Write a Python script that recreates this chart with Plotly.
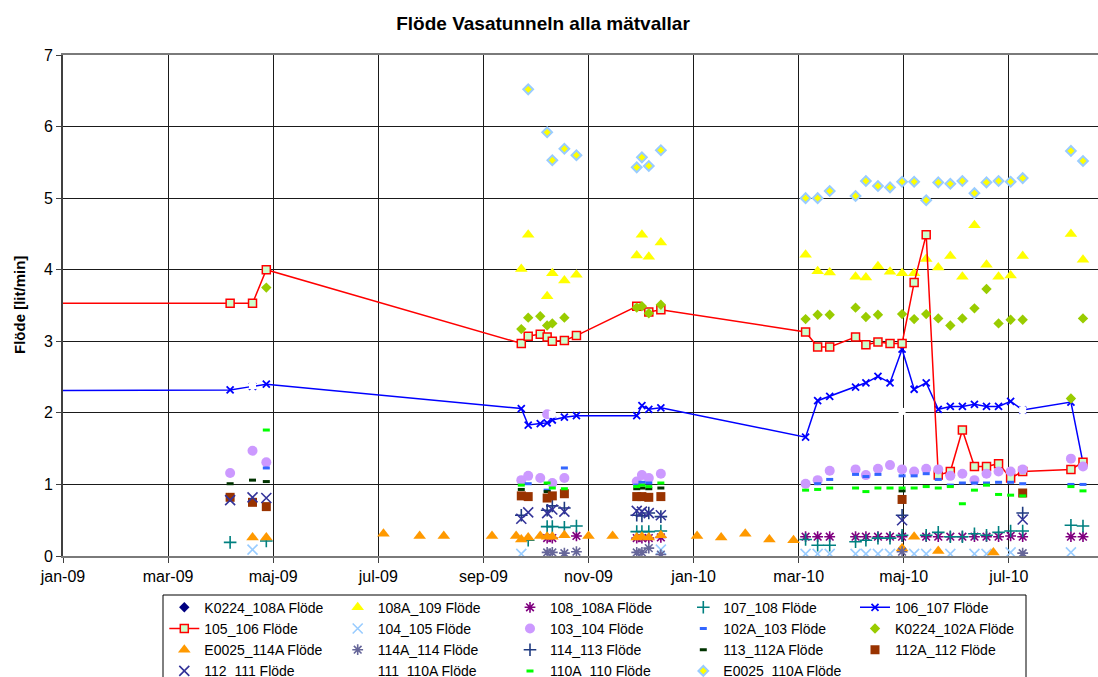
import plotly.graph_objects as go
from datetime import datetime, timedelta

# ---- measurement dates -------------------------------------------------
apr09 = ["2009-04-08", "2009-04-21", "2009-04-29"]
aut09 = ["2009-09-24", "2009-09-28", "2009-10-05", "2009-10-09",
         "2009-10-12", "2009-10-19", "2009-10-26"]
dec09 = ["2009-11-30", "2009-12-03", "2009-12-07", "2009-12-14"]
y2010 = ["2010-03-08", "2010-03-15", "2010-03-22", "2010-04-06", "2010-04-12",
         "2010-04-19", "2010-04-26", "2010-05-03", "2010-05-10", "2010-05-17",
         "2010-05-24", "2010-05-31", "2010-06-07", "2010-06-14", "2010-06-21",
         "2010-06-28", "2010-07-05", "2010-07-12", "2010-08-09", "2010-08-16"]
dates = apr09 + aut09 + dec09 + y2010

# earlier reading carried in from before the axis start
line_start = ["2008-12-01"]

N = None
# ---- flow values [lit/min] per weir, aligned with `dates` ---------------
v_108A_109 = [N, N, N, 4.01, 4.49, N, 3.63, 3.95, 3.85, 3.93, 4.20, 4.49, 4.18, 4.38,
              4.21, 3.98, 3.96, 3.90, 3.89, 4.05, 3.97, 3.95, 3.95, 4.15, 4.03, 4.19,
              3.90, 4.62, 4.07, 3.90, 3.92, 4.19, 4.50, 4.14]
v_108_108A = [N, N, N, N, N, N, 0.25, 0.25, N, 0.28, 0.25, 0.25, 0.25, 0.26,
              0.27, 0.27, 0.27, 0.27, 0.27, 0.27, 0.27, 0.27, N, 0.27, 0.27, 0.27,
              0.27, 0.27, 0.27, 0.27, 0.28, 0.27, 0.27, 0.27]
v_107_108 = [0.19, N, 0.21, N, 0.22, N, 0.41, 0.41, 0.40, 0.42, 0.34, 0.34, 0.34, 0.35,
             0.23, 0.15, 0.15, 0.20, 0.22, 0.25, 0.25, 0.29, N, 0.29, 0.33, 0.27,
             0.27, 0.31, 0.29, 0.33, 0.35, 0.35, 0.43, 0.42]
v_106_107 = [2.32, 2.37, 2.40, 2.06, 1.83, 1.85, 1.86, 1.90, 1.94, 1.96, 1.96, 2.10, 2.05, 2.07,
             1.66, 2.17, 2.23, 2.36, 2.42, 2.51, 2.42, 2.89, 2.33, 2.42, 2.05, 2.09,
             2.09, 2.12, 2.09, 2.09, 2.16, 2.04, 2.15, 1.30]
v_106_107_start = [2.31]
v_105_106 = [3.53, 3.53, 4.00, 2.97, 3.07, 3.10, 3.06, 3.00, 3.01, 3.08, 3.49, N, 3.41, 3.44,
             3.13, 2.92, 2.92, 3.06, 2.95, 2.99, 2.97, 2.97, 3.82, 4.49, 1.13, 1.18,
             1.76, 1.25, 1.25, 1.29, 1.09, 1.18, 1.21, 1.31]
v_105_106_start = [3.53]
v_104_105 = [N, 0.09, N, 0.03, N, N, N, N, N, N, N, N, N, 0.09,
             0.03, 0.03, 0.03, 0.03, 0.03, 0.03, 0.03, N, 0.03, 0.03, N, 0.03,
             N, 0.03, 0.03, N, 0.05, N, 0.05, N]
v_103_104 = [1.16, 1.47, 1.31, 1.06, 1.12, 1.09, 1.98, 1.02, 1.09, N, 1.04, 1.13, 1.09, 1.15,
             1.01, 1.06, 1.19, 1.21, 1.13, 1.22, 1.27, 1.21, 1.18, 1.22, 1.21, 1.12,
             1.15, 1.06, 1.15, 1.18, 1.18, 1.21, 1.36, 1.25]
v_102A_103 = [N, N, 1.23, N, 1.01, N, 0.92, N, 1.23, N, 0.99, 1.03, 1.02, N,
              N, 1.01, 1.07, 1.14, 1.11, 1.14, N, 1.12, 1.12, 1.15, 1.07, 0.99,
              1.02, 1.02, 1.02, 1.03, 1.03, 1.01, 1.00, 1.00]
v_K0224_102A = [N, N, 3.75, 3.17, 3.33, 3.35, 3.22, 3.25, 3.33, N, 3.47, 3.49, 3.39, 3.51,
                3.31, 3.37, 3.37, 3.47, 3.34, 3.37, N, 3.38, 3.31, 3.38, 3.32, 3.22,
                3.32, 3.46, 3.73, 3.25, 3.30, 3.30, 2.20, 3.32]
v_114A_114 = [N, N, N, N, N, N, 0.05, 0.05, 0.04, 0.06, 0.05, 0.05, 0.11, 0.02,
              N, N, N, N, N, N, N, 0.06, N, N, N, N, N, N, N, N, N, 0.04, N, N]
v_114_113 = [N, N, N, 0.57, N, N, 0.64, 0.70, 0.67, N, 0.57, 0.56, 0.60, 0.55,
             N, N, N, N, N, N, N, 0.57, N, N, N, N, N, N, N, N, N, 0.60, N, N]
v_113_112A = [1.01, 1.06, 1.04, 0.93, N, N, 0.90, N, N, N, 0.94, 0.95, 0.94, 0.95,
              N, N, N, N, N, N, N, 0.91, N, N, N, N, N, N, N, N, N, N, N, N]
v_112A_112 = [0.82, 0.75, 0.69, 0.84, 0.83, N, 0.81, 0.84, 0.87, N, 0.83, 0.83, 0.82, 0.83,
              N, N, N, N, N, N, N, 0.79, N, N, N, N, N, N, N, N, N, 0.88, N, N]
v_112_111 = [0.78, 0.82, 0.81, 0.52, 0.61, N, 0.60, 0.65, 0.62, N, 0.63, 0.62, 0.60, 0.57,
             N, N, N, N, N, N, N, 0.50, N, N, N, N, N, N, N, N, N, 0.51, N, N]
v_111_110A = [N, 2.38, N, N, N, N, N, 1.98, N, N, N, N, N, N,
              N, N, N, N, N, N, N, 2.02, N, N, N, N, N, N, N, N, N, 2.04, N, N]
v_110A_110 = [N, N, 1.76, 0.99, N, N, 1.02, 0.95, 0.94, N, 0.97, 0.99, 0.97, 1.02,
              0.92, 0.93, 0.95, 0.95, 0.90, 0.95, 0.95, 0.95, 0.95, 0.97, 0.95, 0.97,
              0.73, 0.92, 0.99, 0.86, 0.85, 0.84, 0.97, 0.91]
v_E0025_110A = [N, N, N, N, 6.52, N, 5.92, 5.53, 5.69, 5.60, 5.43, 5.57, 5.45, 5.67,
                5.00, 5.00, 5.10, 5.03, 5.24, 5.17, 5.15, 5.23, 5.23, 4.97, 5.22, 5.20,
                5.24, 5.07, 5.22, 5.24, 5.23, 5.28, 5.66, 5.52]

# E0025_114A was read on its own (roughly fortnightly) schedule
d_E0025_114A = ["2009-04-21", "2009-04-29", "2009-07-06", "2009-07-27", "2009-08-10",
                "2009-09-07", "2009-09-21", "2009-09-24", "2009-09-28", "2009-10-05",
                "2009-10-09", "2009-10-12", "2009-10-19", "2009-11-02", "2009-11-16",
                "2009-11-30", "2009-12-03", "2009-12-07", "2009-12-14", "2010-01-04",
                "2010-01-18", "2010-02-01", "2010-02-15", "2010-03-01", "2010-05-03",
                "2010-05-10", "2010-05-24", "2010-06-25"]
v_E0025_114A = [0.26, 0.26, 0.31, 0.28, 0.28, 0.28, 0.28, 0.23, 0.26, 0.28,
                0.27, 0.27, 0.29, 0.28, 0.28, 0.26, 0.27, 0.26, 0.29, 0.28,
                0.26, 0.31, 0.23, 0.22, 0.11, 0.27, 0.07, 0.05]

# no readings in range for K0224_108A (kept as a legend entry)
d_K0224_108A = [None]
v_K0224_108A = [None]

# axis labels
tick_labels = ["jan-09", "mar-09", "maj-09", "jul-09", "sep-09",
               "nov-09", "jan-10", "mar-10", "maj-10", "jul-10"]

FONT = "Liberation Sans, Arial, sans-serif"

fig = go.Figure()


def marker_trace(name, x, y, symbol, size, color, line_color=None, line_width=0, legend="legend"):
    fig.add_trace(go.Scatter(
        x=x, y=y, name=name, mode="markers", legend=legend,
        marker=dict(symbol=symbol, size=size, color=color,
                    line=dict(color=line_color or color, width=line_width)),
    ))


# legend columns (row-major order in five columns)
L = ["legend", "legend2", "legend3", "legend4", "legend5"]

marker_trace("K0224_108A Flöde", d_K0224_108A, v_K0224_108A, "diamond", 8, "#000080", legend=L[0])
marker_trace("108A_109 Flöde", dates, v_108A_109, "triangle-up", 11, "#FFFF00", legend=L[1])
marker_trace("108_108A Flöde", dates, v_108_108A, "asterisk-open", 9, "#800080", line_width=1.6, legend=L[2])
marker_trace("107_108 Flöde", dates, v_107_108, "cross-thin-open", 9, "#008080", line_width=1.6, legend=L[3])
fig.add_trace(go.Scatter(
    x=line_start + dates, y=v_106_107_start + v_106_107, name="106_107 Flöde",
    mode="lines+markers", legend=L[4], connectgaps=True,
    line=dict(color="#0000FF", width=1.5),
    marker=dict(symbol="x-thin-open", size=7, color="#0000FF", line=dict(color="#0000FF", width=1.8)),
))
fig.add_trace(go.Scatter(
    x=line_start + dates, y=v_105_106_start + v_105_106, name="105_106 Flöde",
    mode="lines+markers", legend=L[0], connectgaps=True,
    line=dict(color="#FF0000", width=1.5),
    marker=dict(symbol="square", size=8, color="#CCFFCC", line=dict(color="#FF0000", width=1.5)),
))
marker_trace("104_105 Flöde", dates, v_104_105, "x-thin-open", 10, "#99CCFF", line_width=1.6, legend=L[1])
marker_trace("103_104 Flöde", dates, v_103_104, "circle", 10, "#CC99FF", legend=L[2])
marker_trace("102A_103 Flöde", dates, v_102A_103, "line-ew-open", 5, "#3366FF", line_width=3, legend=L[3])
marker_trace("K0224_102A Flöde", dates, v_K0224_102A, "diamond", 8, "#99CC00", legend=L[4])
marker_trace("E0025_114A Flöde", d_E0025_114A, v_E0025_114A, "triangle-up", 11, "#FF9900", legend=L[0])
marker_trace("114A_114 Flöde", dates, v_114A_114, "asterisk-open", 9, "#666699", line_width=1.6, legend=L[1])
marker_trace("114_113 Flöde", dates, v_114_113, "cross-thin-open", 9, "#1F3A80", line_width=1.6, legend=L[2])
marker_trace("113_112A Flöde", dates, v_113_112A, "line-ew-open", 5, "#003300", line_width=3, legend=L[3])
marker_trace("112A_112 Flöde", dates, v_112A_112, "square", 9, "#993300", legend=L[4])
marker_trace("112_111 Flöde", dates, v_112_111, "x-thin-open", 10, "#333399", line_width=1.6, legend=L[0])
marker_trace("111_110A Flöde", dates, v_111_110A, "square", 7, "#FFFFFF", legend=L[1])
marker_trace("110A_110 Flöde", dates, v_110A_110, "line-ew-open", 5, "#00FF00", line_width=3, legend=L[2])
marker_trace("E0025_110A Flöde", dates, v_E0025_110A, "diamond", 7.5, "#FFFF00",
             line_color="#99CCFF", line_width=2, legend=L[3])

# ---- layout -------------------------------------------------------------
W, H = 1098, 677
ML, MR, MT, MB = 63, 0, 55, 121
plot_w = W - ML - MR
plot_h = H - MT - MB

x0 = datetime(2009, 1, 1)
tick_days = 61
px_per_tick = 105.1
tick_vals = [x0 + timedelta(days=tick_days * i) for i in range(len(tick_labels))]
x_end = x0 + timedelta(days=plot_w * tick_days / px_per_tick)


def px_x(px):
    return (px - ML) / plot_w


def px_y(py):
    return (H - MB - py) / plot_h


legend_text_x = [204.3, 377.7, 550, 723.3, 895]
legend_font = 14
row_h = legend_font * 1.3 + 3
legend_top = 607.3 - 5 - row_h / 2
legend_layout = {}
for i, key in enumerate(L):
    legend_layout[key] = dict(
        x=px_x(legend_text_x[i] - 40), xanchor="left",
        y=px_y(legend_top), yanchor="top",
        orientation="v", bgcolor="rgba(0,0,0,0)", borderwidth=0,
        font=dict(family=FONT, size=legend_font, color="#000000"),
        traceorder="normal",
    )

fig.update_layout(
    width=W, height=H,
    margin=dict(l=ML, r=MR, t=MT, b=MB, autoexpand=False),
    paper_bgcolor="white", plot_bgcolor="white",
    font=dict(family=FONT, color="#000000"),
    title=dict(text="<b>Flöde Vasatunneln alla mätvallar</b>",
               font=dict(family=FONT, size=19, color="#000000"),
               x=543 / W, xref="container", xanchor="center",
               y=1 - 23.5 / H, yref="container", yanchor="middle"),
    xaxis=dict(
        type="date", range=[x0, x_end],
        tickvals=tick_vals, ticktext=tick_labels,
        tickfont=dict(family=FONT, size=16, color="#000000"),
        showgrid=True, gridcolor="#1a1a1a", gridwidth=1,
        showline=True, mirror=True, linecolor="#7a7a7a", linewidth=2,
        ticks="outside", ticklen=5, tickcolor="#404040",
        zeroline=False,
    ),
    yaxis=dict(
        range=[0, 7], dtick=1, tick0=0,
        tickfont=dict(family=FONT, size=16, color="#000000"),
        showgrid=True, gridcolor="#1a1a1a", gridwidth=1,
        showline=True, linecolor="#404040", linewidth=2,
        ticks="outside", ticklen=5, tickcolor="#404040",
        zeroline=False,
    ),
    showlegend=True,
    **legend_layout,
    annotations=[dict(
        text="<b>Flöde [lit/min]</b>", textangle=-90,
        xref="paper", yref="paper", x=px_x(19), y=px_y(305),
        xanchor="center", yanchor="middle", showarrow=False,
        font=dict(family=FONT, size=15, color="#000000"),
    )],
    shapes=[dict(
        type="rect", xref="paper", yref="paper",
        x0=px_x(163), x1=px_x(1026), y0=px_y(595), y1=px_y(720),
        line=dict(color="#000000", width=1), fillcolor="rgba(0,0,0,0)",
    )],
)

fig.write_html("out.html")
